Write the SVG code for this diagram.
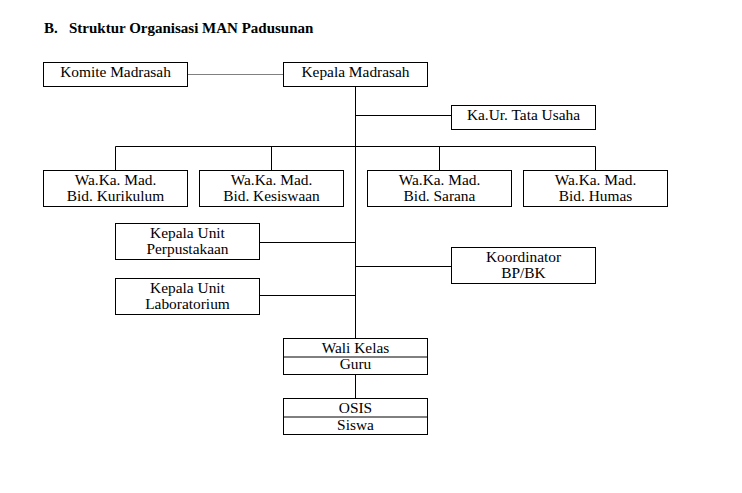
<svg xmlns="http://www.w3.org/2000/svg" width="742" height="493" viewBox="0 0 742 493">
<style>
.b{fill:#fff;stroke:#000;stroke-width:1}
.t{font-family:"Liberation Serif","Times New Roman",serif;font-size:15.4px;fill:#000;text-anchor:middle}
.h{font-family:"Liberation Serif","Times New Roman",serif;font-size:15px;font-weight:bold;fill:#000}
.c{stroke:#000;stroke-width:1;fill:none}
</style>
<rect width="742" height="493" fill="#fff"/>
<text class="h" x="44" y="33">B.</text>
<text class="h" x="69" y="33">Struktur Organisasi MAN Padusunan</text>
<g id="connectors">
<line x1="187.5" y1="74.5" x2="283.5" y2="74.5" stroke="#808080" stroke-width="1"/>
<path class="c" d="M355.5 86.5V338.5M355.5 115.5H451.5M115.5 170.5V146.5H595.5V170.5M271.5 146.5V170.5M439.5 146.5V170.5M259.5 242.5H355.5M355.5 266.5H451.5M259.5 295.5H355.5M355.5 374.5V398.5"/>
</g>
<g id="komite"><rect class="b" x="43.5" y="62.5" width="144" height="24"/><text class="t" x="115.5" y="77">Komite Madrasah</text></g>
<g id="kepala"><rect class="b" x="283.5" y="62.5" width="144" height="24"/><text class="t" x="355.5" y="77">Kepala Madrasah</text></g>
<g id="kaur"><rect class="b" x="451.5" y="105.5" width="144" height="24"/><text class="t" x="523.5" y="120">Ka.Ur. Tata Usaha</text></g>
<g id="kurikulum"><rect class="b" x="43.5" y="170.5" width="144" height="36"/><text class="t" x="115.5" y="185">Wa.Ka. Mad.</text><text class="t" x="115.5" y="201">Bid. Kurikulum</text></g>
<g id="kesiswaan"><rect class="b" x="199.5" y="170.5" width="144" height="36"/><text class="t" x="271.5" y="185">Wa.Ka. Mad.</text><text class="t" x="271.5" y="201">Bid. Kesiswaan</text></g>
<g id="sarana"><rect class="b" x="367.5" y="170.5" width="144" height="36"/><text class="t" x="439.5" y="185">Wa.Ka. Mad.</text><text class="t" x="439.5" y="201">Bid. Sarana</text></g>
<g id="humas"><rect class="b" x="523.5" y="170.5" width="144" height="36"/><text class="t" x="595.5" y="185">Wa.Ka. Mad.</text><text class="t" x="595.5" y="201">Bid. Humas</text></g>
<g id="perpustakaan"><rect class="b" x="115.5" y="223.5" width="144" height="36"/><text class="t" x="187.5" y="238">Kepala Unit</text><text class="t" x="187.5" y="253.5">Perpustakaan</text></g>
<g id="koordinator"><rect class="b" x="451.5" y="247.5" width="144" height="36"/><text class="t" x="523.5" y="262">Koordinator</text><text class="t" x="523.5" y="277.5">BP/BK</text></g>
<g id="laboratorium"><rect class="b" x="115.5" y="278.5" width="144" height="36"/><text class="t" x="187.5" y="293">Kepala Unit</text><text class="t" x="187.5" y="308.5">Laboratorium</text></g>
<g id="walikelas"><rect class="b" x="283.5" y="338.5" width="144" height="36"/><line class="c" x1="283.5" y1="357" x2="427.5" y2="357"/><text class="t" x="355.5" y="353">Wali Kelas</text><text class="t" x="355.5" y="369">Guru</text></g>
<g id="osis"><rect class="b" x="283.5" y="398.5" width="144" height="36"/><line class="c" x1="283.5" y1="417" x2="427.5" y2="417"/><text class="t" x="355.5" y="413">OSIS</text><text class="t" x="355.5" y="429.5">Siswa</text></g>
</svg>
